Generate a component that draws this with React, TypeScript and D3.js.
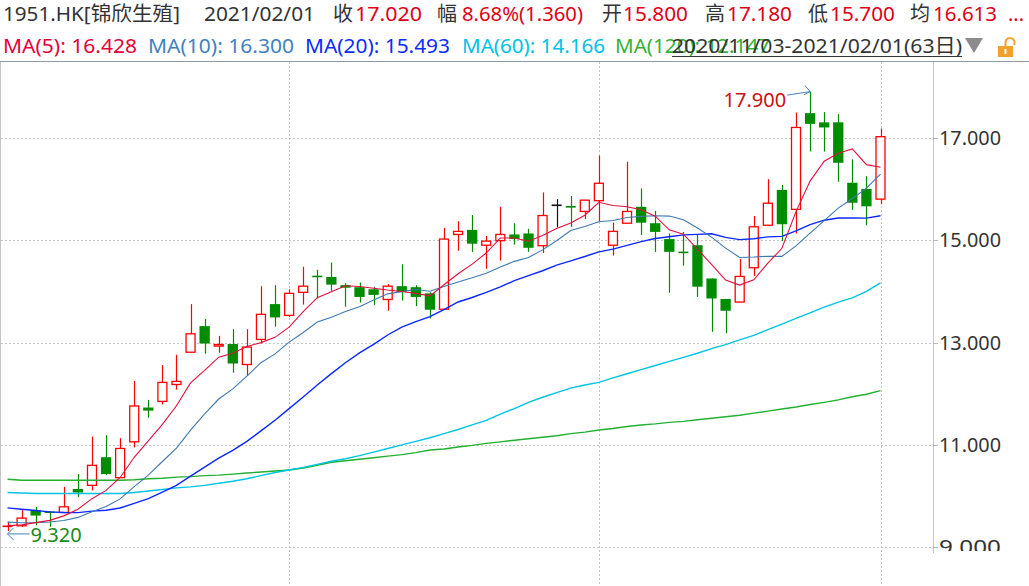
import React from 'react';
import * as d3 from 'd3';

// ---------- data ----------
const dates = [
  '2020-11-03','2020-11-04','2020-11-05','2020-11-06','2020-11-09','2020-11-10','2020-11-11','2020-11-12','2020-11-13',
  '2020-11-16','2020-11-17','2020-11-18','2020-11-19','2020-11-20','2020-11-23','2020-11-24','2020-11-25','2020-11-26',
  '2020-11-27','2020-11-30','2020-12-01','2020-12-02','2020-12-03','2020-12-04','2020-12-07','2020-12-08','2020-12-09',
  '2020-12-10','2020-12-11','2020-12-14','2020-12-15','2020-12-16','2020-12-17','2020-12-18','2020-12-21','2020-12-22',
  '2020-12-23','2020-12-24','2020-12-28','2020-12-29','2020-12-30','2020-12-31','2021-01-04','2021-01-05','2021-01-06',
  '2021-01-07','2021-01-08','2021-01-11','2021-01-12','2021-01-13','2021-01-14','2021-01-15','2021-01-18','2021-01-19',
  '2021-01-20','2021-01-21','2021-01-22','2021-01-25','2021-01-26','2021-01-27','2021-01-28','2021-01-29','2021-02-01',
];
const opens = [
  9.40, 9.42, 9.73, 9.70, 9.68, 10.14, 10.21, 10.76, 10.36, 11.06, 11.73, 11.85, 12.18, 12.81, 13.32, 12.93,
  12.97, 12.57, 13.06, 13.75, 13.53, 13.98, 14.30, 14.28, 14.12, 14.08, 14.04, 13.84, 14.10, 14.08, 13.96, 13.65,
  15.11, 15.20, 14.90, 14.99, 15.11, 15.13, 14.89, 15.68, 15.66, 15.56, 15.77, 14.90, 15.33, 15.65, 15.33, 15.02,
  14.77, 14.90, 14.25, 13.85, 13.79, 14.46, 15.29, 15.98, 15.60, 17.48, 17.30, 17.30, 16.12, 16.00, 15.80,
];
const highs = [
  9.50, 9.74, 9.79, 9.71, 10.18, 10.43, 11.16, 11.19, 11.13, 12.25, 11.88, 12.56, 12.76, 13.75, 13.46, 13.13,
  13.26, 13.26, 14.10, 14.12, 14.04, 14.48, 14.42, 14.56, 14.16, 14.17, 14.09, 14.14, 14.53, 14.12, 13.98, 15.24,
  15.37, 15.49, 15.08, 15.65, 15.33, 15.22, 15.93, 15.80, 15.86, 15.78, 16.65, 15.34, 16.53, 16.01, 15.57, 15.13,
  15.16, 15.11, 14.25, 13.85, 14.63, 15.47, 16.19, 16.08, 17.49, 17.90, 17.50, 17.46, 16.58, 16.25, 17.18,
];
const lows = [
  9.32, 9.40, 9.43, 9.40, 9.67, 9.98, 10.11, 10.41, 10.36, 10.95, 11.53, 11.79, 12.08, 12.81, 12.78, 12.80,
  12.41, 12.35, 12.98, 13.31, 13.50, 13.74, 13.86, 14.01, 13.70, 13.78, 13.73, 13.62, 13.82, 13.71, 13.47, 13.65,
  14.79, 14.77, 14.44, 14.60, 14.91, 14.77, 14.75, 15.25, 15.26, 15.41, 15.37, 14.70, 15.33, 15.10, 14.77, 13.97,
  14.50, 13.89, 13.21, 13.18, 13.79, 14.30, 15.29, 14.98, 15.13, 16.73, 16.73, 16.14, 15.59, 15.29, 15.70,
];
const closes = [
  9.42, 9.57, 9.62, 9.67, 9.79, 10.07, 10.60, 10.43, 10.93, 11.76, 11.67, 12.22, 12.24, 13.17, 12.98, 12.96,
  12.59, 12.91, 13.55, 13.49, 13.96, 14.10, 14.28, 14.13, 14.07, 13.89, 13.93, 14.10, 13.99, 13.89, 13.64, 15.02,
  15.17, 14.93, 14.98, 15.11, 15.02, 14.85, 15.48, 15.68, 15.64, 15.78, 16.11, 15.17, 15.56, 15.34, 15.16, 14.77,
  14.75, 14.09, 13.86, 13.62, 14.29, 15.26, 15.72, 15.31, 17.20, 17.27, 17.20, 16.51, 15.73, 15.66, 17.02,
];
// closes of the 19 sessions before the window (estimated from the MA lines)
const priorCloses = [
  10.15, 10.10, 10.20, 10.05, 10.10, 10.00, 10.10, 10.05, 9.95, 9.80, 9.70, 9.60, 9.55, 9.50, 9.45, 9.50, 9.40, 9.45, 9.35,
];
// longer averages (their history lies outside the window)
const ma60 = [
  10.07, 10.06, 10.05, 10.05, 10.05, 10.05, 10.05, 10.05, 10.05, 10.07, 10.10, 10.13, 10.16, 10.18, 10.21, 10.25,
  10.29, 10.34, 10.40, 10.46, 10.51, 10.56, 10.62, 10.68, 10.73, 10.79, 10.86, 10.93, 11.00, 11.07, 11.14, 11.22,
  11.30, 11.39, 11.48, 11.60, 11.71, 11.83, 11.93, 12.02, 12.11, 12.17, 12.22, 12.31, 12.39, 12.47, 12.55, 12.63,
  12.71, 12.79, 12.88, 12.96, 13.05, 13.14, 13.25, 13.36, 13.47, 13.58, 13.69, 13.79, 13.87, 14.00, 14.166,
];
const ma120 = [
  10.33, 10.31, 10.31, 10.31, 10.31, 10.31, 10.31, 10.31, 10.31, 10.32, 10.34, 10.35, 10.37, 10.38, 10.40, 10.41,
  10.43, 10.45, 10.47, 10.49, 10.51, 10.55, 10.60, 10.66, 10.69, 10.72, 10.75, 10.78, 10.81, 10.85, 10.90, 10.92,
  10.96, 10.99, 11.03, 11.06, 11.09, 11.12, 11.15, 11.18, 11.22, 11.25, 11.29, 11.32, 11.36, 11.39, 11.41, 11.44,
  11.46, 11.49, 11.52, 11.55, 11.58, 11.62, 11.66, 11.70, 11.74, 11.79, 11.83, 11.88, 11.94, 11.99, 12.06,
];
const yTicks = [9, 11, 13, 15, 17];
const monthStarts = ['2020-12-01', '2021-01-04', '2021-02-01'];

const headerTitle = '1951.HK[锦欣生殖]';
const headerDate = '2021/02/01';
const quoteLabels = ['收', '幅', '开', '高', '低', '均'];
const quoteValues = ['17.020', '8.68%(1.360)', '15.800', '17.180', '15.700', '16.613'];
const maNames = ['MA(5)', 'MA(10)', 'MA(20)', 'MA(60)', 'MA(120)'];
const maValues = ['16.428', '16.300', '15.493', '14.166', '12.147'];
const rangeLabel = '2020/11/03-2021/02/01(63日)';

// ---------- layout / style ----------
const W = 1029;
const H = 586;
const AXIS_X = 933;
const TOP = 62;
const FONT = "'Noto Sans', 'Noto Sans CJK SC', sans-serif";
const RED = '#ff0000';
const GREEN = '#008c00';
const TXT_RED = '#e00016';
const DARK = '#333333';
const maColors = ['#e0103c', '#3d7ab0', '#0a28ff', '#00c4e4', '#22b030'];
const maTextColors = ['#e5003a', '#3f82c0', '#0a2cff', '#00c2e8', '#33b233'];
const quoteLabelX = [333, 437, 602, 705, 808, 910];
const quoteValueX = [355, 462, 623, 727, 830, 933];
const quoteValueW = [67, 121, 65, 65, 65, 64];
const maTextX = [3, 148, 305, 462, 615];
const maTextW = [134, 146, 145, 143, 155];

function movingAverage(values: number[], n: number, offset: number, count: number): number[] {
  const out: number[] = [];
  for (let i = 0; i < count; i++) {
    const end = offset + i + 1;
    out.push(d3.mean(values.slice(end - n, end)) as number);
  }
  return out;
}

export default function App() {
  const x = d3.scalePoint<string>().domain(dates).range([7.5, 880.5]);
  const y = d3.scaleLinear().domain([9, 17]).range([547.3, 137.7]);

  const all = priorCloses.concat(closes);
  const off = priorCloses.length;
  const ma5 = movingAverage(all, 5, off, closes.length);
  const ma10 = movingAverage(all, 10, off, closes.length);
  const ma20 = movingAverage(all, 20, off, closes.length);
  const maSeries = [ma5, ma10, ma20, ma60, ma120];

  const line = d3
    .line<number>()
    .x((_, i) => x(dates[i]) as number)
    .y((v) => y(v));

  const hiIdx = d3.maxIndex(highs);
  const loIdx = d3.minIndex(lows);
  const hiX = x(dates[hiIdx]) as number;
  const hiY = y(highs[hiIdx]);
  const loX = x(dates[loIdx]) as number;
  const loY = y(lows[loIdx]);

  return (
    <div style={{ position: 'fixed', left: 0, top: 0, width: W, height: H, background: '#fff' }}>
      <svg width={W} height={H} style={{ display: 'block', fontFamily: FONT }}>
        <defs>
          <clipPath id="plot">
            <rect x={0} y={TOP} width={AXIS_X} height={H - TOP} />
          </clipPath>
          <clipPath id="axis">
            <rect x={AXIS_X} y={TOP} width={W - AXIS_X} height={551 - TOP} />
          </clipPath>
        </defs>
        <rect x={0} y={0} width={W} height={H} fill="#fff" />

        {/* header row 1 */}
        <g fontSize={20}>
          <text x={3} y={21} fill={DARK} textLength={177} lengthAdjust="spacingAndGlyphs">{headerTitle}</text>
          <text x={204} y={21} fill={DARK} textLength={111} lengthAdjust="spacingAndGlyphs">{headerDate}</text>
          {quoteLabels.map((l, i) => (
            <text key={'ql' + i} x={quoteLabelX[i]} y={21} fill={DARK}>{l}</text>
          ))}
          {quoteValues.map((v, i) => (
            <text key={'qv' + i} x={quoteValueX[i]} y={21} fill={TXT_RED} textLength={quoteValueW[i]} lengthAdjust="spacingAndGlyphs">{v}</text>
          ))}
          <text x={1008} y={21} fill={TXT_RED}>...</text>
        </g>

        {/* header row 2 */}
        <g fontSize={20}>
          {maNames.map((n, i) => (
            <text key={'mt' + i} x={maTextX[i]} y={53} fill={maTextColors[i]} textLength={maTextW[i]} lengthAdjust="spacingAndGlyphs">
              {n + ': ' + maValues[i]}
            </text>
          ))}
          <text x={672} y={53} fill={DARK} textLength={290} lengthAdjust="spacingAndGlyphs">{rangeLabel}</text>
          <line x1={672} x2={962} y1={56.5} y2={56.5} stroke={DARK} strokeWidth={1} />
          <polygon points="965,38 983,38 974,53" fill="#8c8c8c" />
          <path d="M1005.5,47 V42.5 A4.5,4.5 0 0 1 1014.5,42.5 V45" fill="none" stroke="#f2a12a" strokeWidth={2} />
          <rect x={998} y={46} width={15} height={11} fill="#f2a12a" />
          <rect x={1004.5} y={49} width={2} height={5} fill="#fff" />
        </g>

        {/* frame */}
        <line x1={0} x2={W} y1={TOP - 0.5} y2={TOP - 0.5} stroke="#8e9aa6" strokeWidth={1} />
        <line x1={0.5} x2={0.5} y1={TOP} y2={H} stroke="#c4c4c4" strokeWidth={1} />
        <line x1={AXIS_X + 0.5} x2={AXIS_X + 0.5} y1={TOP} y2={553} stroke="#c4c4c4" strokeWidth={1} />

        {/* grid */}
        <g clipPath="url(#plot)">
          {yTicks.map((t) => (
            <line key={'gy' + t} x1={1} x2={AXIS_X} y1={Math.round(y(t)) + 0.5} y2={Math.round(y(t)) + 0.5}
              stroke="#c4c4c4" strokeDasharray="2,2" strokeWidth={1} />
          ))}
          {monthStarts.map((d) => {
            const gx = Math.round(x(d) as number) + 0.5;
            return <line key={'gx' + d} x1={gx} x2={gx} y1={TOP} y2={H} stroke="#c4c4c4" strokeDasharray="2,2" strokeWidth={1} />;
          })}
        </g>

        {/* y axis */}
        <g clipPath="url(#axis)">
          {yTicks.map((t) => (
            <g key={'yt' + t}>
              <line x1={AXIS_X} x2={AXIS_X + 5} y1={Math.round(y(t)) + 0.5} y2={Math.round(y(t)) + 0.5} stroke="#b8b8b8" />
              <text x={939} y={y(t) + 7} fontSize={19.5} fill={DARK} textLength={62} lengthAdjust="spacingAndGlyphs">
                {t.toFixed(3)}
              </text>
            </g>
          ))}
        </g>

        <g clipPath="url(#plot)">
          {/* candles */}
          {dates.map((d, i) => {
            const cx = x(d) as number;
            const wx = Math.round(cx) + 0.5;
            const o = opens[i];
            const c = closes[i];
            const color = c > o ? RED : c < o ? GREEN : '#111';
            const top = y(Math.max(o, c));
            const bot = y(Math.min(o, c));
            const bh = bot - top;
            return (
              <g key={'c' + i}>
                <line x1={wx} x2={wx} y1={y(highs[i])} y2={y(lows[i])} stroke={color} strokeWidth={1.2} />
                {bh < 1.5 ? (
                  <line x1={cx - 5} x2={cx + 5} y1={(top + bot) / 2} y2={(top + bot) / 2} stroke={color} strokeWidth={1.6} />
                ) : c > o ? (
                  <rect x={cx - 4.5} y={top} width={9} height={bh} fill="#fff" stroke={RED} strokeWidth={1.3} />
                ) : (
                  <rect x={cx - 5.15} y={top} width={10.3} height={bh} fill={GREEN} />
                )}
              </g>
            );
          })}

          {/* moving averages */}
          {[4, 3, 2, 1, 0].map((k) => (
            <path key={'ma' + k} d={line(maSeries[k]) as string} fill="none" stroke={maColors[k]}
              strokeWidth={k >= 2 ? 1.4 : 1.1} />
          ))}

          {/* max / min annotations */}
          <g>
            <line x1={hiX - 23} y1={hiY + 3.5} x2={hiX} y2={hiY} stroke="#4a82b4" strokeWidth={1} />
            <polyline points={`${hiX - 5},${hiY - 6} ${hiX},${hiY} ${hiX - 6},${hiY + 3}`} fill="none" stroke="#4a82b4" strokeWidth={1} />
            <text x={hiX - 24} y={hiY + 15} textAnchor="end" fontSize={20} fill="#cc1010">{highs[hiIdx].toFixed(3)}</text>
          </g>
          <g>
            <line x1={loX} y1={loY + 3} x2={loX + 22} y2={loY + 3} stroke="#4a82b4" strokeWidth={1} />
            <polyline points={`${loX + 6},${loY - 3} ${loX},${loY + 3} ${loX + 6},${loY + 9}`} fill="none" stroke="#4a82b4" strokeWidth={1} />
            <text x={loX + 23} y={loY + 11} fontSize={20} fill="#1a8a1a">{lows[loIdx].toFixed(3)}</text>
          </g>
        </g>
      </svg>
    </div>
  );
}
